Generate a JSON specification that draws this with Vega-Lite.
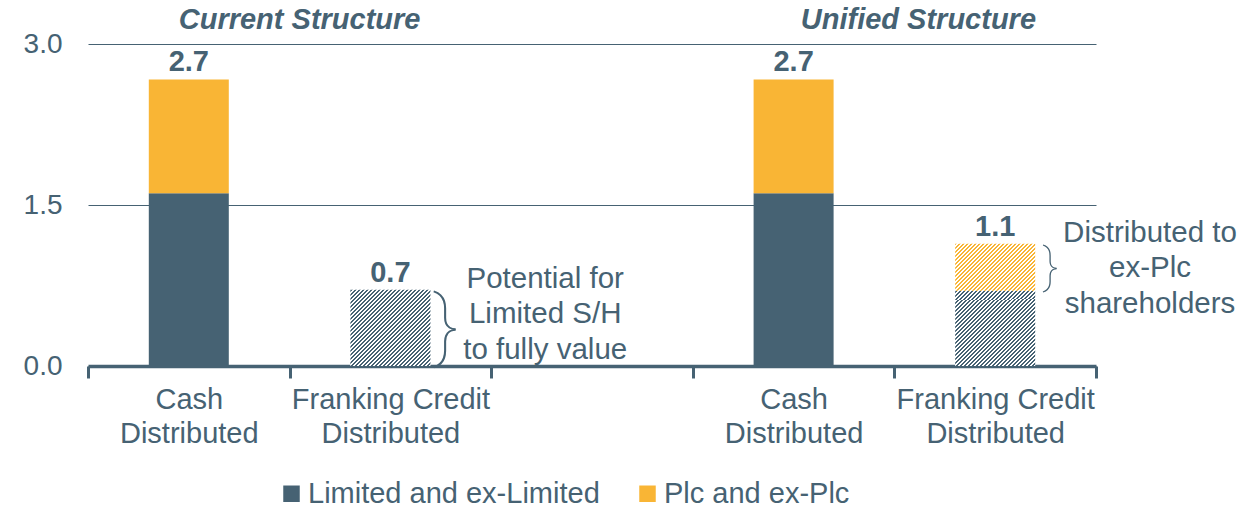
{
  "$schema": "https://vega.github.io/schema/vega-lite/v6.json",
  "width": 1008,
  "height": 322,
  "autosize": {"type": "none"},
  "padding": {"left": 88, "top": 44, "right": 143, "bottom": 143},
  "background": "white",
  "config": {"view": {"stroke": null}, "font": "Liberation Sans"},
  "datasets": {
    "segments": [
      {"slot": 1, "structure": "Current Structure", "item": "Cash Distributed", "series": "Limited and ex-Limited", "value": 1.61, "hatched": false, "note": ""},
      {"slot": 1, "structure": "Current Structure", "item": "Cash Distributed", "series": "Plc and ex-Plc", "value": 1.06, "hatched": false, "note": ""},
      {"slot": 2, "structure": "Current Structure", "item": "Franking Credit Distributed", "series": "Limited and ex-Limited", "value": 0.71, "hatched": true, "note": "Potential for\nLimited S/H\nto fully value"},
      {"slot": 4, "structure": "Unified Structure", "item": "Cash Distributed", "series": "Limited and ex-Limited", "value": 1.61, "hatched": false, "note": ""},
      {"slot": 4, "structure": "Unified Structure", "item": "Cash Distributed", "series": "Plc and ex-Plc", "value": 1.06, "hatched": false, "note": ""},
      {"slot": 5, "structure": "Unified Structure", "item": "Franking Credit Distributed", "series": "Limited and ex-Limited", "value": 0.7, "hatched": true, "note": ""},
      {"slot": 5, "structure": "Unified Structure", "item": "Franking Credit Distributed", "series": "Plc and ex-Plc", "value": 0.44, "hatched": true, "note": "Distributed to\nex-Plc\nshareholders"}
    ],
    "titles": [
      {"structure": "Current Structure", "slot": 2},
      {"structure": "Unified Structure", "slot": 5}
    ]
  },
  "data": {"name": "segments"},
  "encoding": {
    "x": {
      "field": "slot",
      "type": "ordinal",
      "scale": {"domain": [1, 2, 3, 4, 5], "paddingInner": 0, "paddingOuter": 0},
      "axis": {
        "title": null,
        "labelAngle": 0,
        "labelExpr": "datum.value == 1 || datum.value == 4 ? ['Cash', 'Distributed'] : (datum.value == 2 || datum.value == 5 ? ['Franking Credit', 'Distributed'] : '')",
        "labelFontSize": 29,
        "labelColor": "#466273",
        "labelLineHeight": 34,
        "labelPadding": 7,
        "labelLimit": 400,
        "labelOverlap": false,
        "labelBound": false,
        "domainColor": "#466273",
        "domainWidth": 3.5,
        "tickColor": "#466273",
        "tickWidth": 3,
        "tickSize": 12,
        "tickBand": "extent",
        "grid": false
      }
    }
  },
  "layer": [
    {
      "transform": [{"filter": "!datum.hatched"}],
      "mark": {"type": "bar", "width": 80},
      "encoding": {
        "y": {
          "field": "value",
          "type": "quantitative",
          "stack": "zero",
          "scale": {"domain": [0, 3], "nice": false},
          "axis": {
            "title": null,
            "values": [0, 1.5, 3],
            "format": ".1f",
            "labelFontSize": 28,
            "labelColor": "#466273",
            "labelPadding": 26,
            "domain": false,
            "ticks": false,
            "grid": true,
            "gridColor": "#466273",
            "gridWidth": 1,
            "gridOpacity": 1
          }
        },
        "color": {
          "field": "series",
          "type": "nominal",
          "scale": {"domain": ["Limited and ex-Limited", "Plc and ex-Plc"], "range": ["#466273", "#F9B535"]},
          "legend": {
            "title": null,
            "orient": "none",
            "legendX": 189,
            "legendY": 435,
            "direction": "horizontal",
            "symbolType": "square",
            "symbolSize": 272,
            "symbolStrokeWidth": 0,
            "symbolOpacity": 1,
            "labelFontSize": 29,
            "labelColor": "#466273",
            "labelOffset": 2,
            "labelLimit": 400,
            "columnPadding": 33
          }
        },
        "order": {"field": "series", "type": "nominal"}
      }
    },
    {
      "transform": [{"filter": "datum.hatched"}],
      "mark": {"type": "bar", "width": 80},
      "encoding": {
        "y": {"field": "value", "type": "quantitative", "stack": "zero", "title": null},
        "detail": {"field": "series", "type": "nominal"},
        "order": {"field": "series", "type": "nominal"},
        "fill": {
          "condition": {
            "test": "datum.series == 'Plc and ex-Plc'",
            "value": {"gradient": "linear", "x1": 0, "y1": 0, "x2": 1.483, "y2": 0.875, "stops": [
{"offset":0,"color":"#F9B535"},{"offset":0.0125,"color":"#F9B535"},{"offset":0.0125,"color":"#fff"},{"offset":0.025,"color":"#fff"},
{"offset":0.025,"color":"#F9B535"},{"offset":0.0375,"color":"#F9B535"},{"offset":0.0375,"color":"#fff"},{"offset":0.05,"color":"#fff"},
{"offset":0.05,"color":"#F9B535"},{"offset":0.0625,"color":"#F9B535"},{"offset":0.0625,"color":"#fff"},{"offset":0.075,"color":"#fff"},
{"offset":0.075,"color":"#F9B535"},{"offset":0.0875,"color":"#F9B535"},{"offset":0.0875,"color":"#fff"},{"offset":0.1,"color":"#fff"},
{"offset":0.1,"color":"#F9B535"},{"offset":0.1125,"color":"#F9B535"},{"offset":0.1125,"color":"#fff"},{"offset":0.125,"color":"#fff"},
{"offset":0.125,"color":"#F9B535"},{"offset":0.1375,"color":"#F9B535"},{"offset":0.1375,"color":"#fff"},{"offset":0.15,"color":"#fff"},
{"offset":0.15,"color":"#F9B535"},{"offset":0.1625,"color":"#F9B535"},{"offset":0.1625,"color":"#fff"},{"offset":0.175,"color":"#fff"},
{"offset":0.175,"color":"#F9B535"},{"offset":0.1875,"color":"#F9B535"},{"offset":0.1875,"color":"#fff"},{"offset":0.2,"color":"#fff"},
{"offset":0.2,"color":"#F9B535"},{"offset":0.2125,"color":"#F9B535"},{"offset":0.2125,"color":"#fff"},{"offset":0.225,"color":"#fff"},
{"offset":0.225,"color":"#F9B535"},{"offset":0.2375,"color":"#F9B535"},{"offset":0.2375,"color":"#fff"},{"offset":0.25,"color":"#fff"},
{"offset":0.25,"color":"#F9B535"},{"offset":0.2625,"color":"#F9B535"},{"offset":0.2625,"color":"#fff"},{"offset":0.275,"color":"#fff"},
{"offset":0.275,"color":"#F9B535"},{"offset":0.2875,"color":"#F9B535"},{"offset":0.2875,"color":"#fff"},{"offset":0.3,"color":"#fff"},
{"offset":0.3,"color":"#F9B535"},{"offset":0.3125,"color":"#F9B535"},{"offset":0.3125,"color":"#fff"},{"offset":0.325,"color":"#fff"},
{"offset":0.325,"color":"#F9B535"},{"offset":0.3375,"color":"#F9B535"},{"offset":0.3375,"color":"#fff"},{"offset":0.35,"color":"#fff"},
{"offset":0.35,"color":"#F9B535"},{"offset":0.3625,"color":"#F9B535"},{"offset":0.3625,"color":"#fff"},{"offset":0.375,"color":"#fff"},
{"offset":0.375,"color":"#F9B535"},{"offset":0.3875,"color":"#F9B535"},{"offset":0.3875,"color":"#fff"},{"offset":0.4,"color":"#fff"},
{"offset":0.4,"color":"#F9B535"},{"offset":0.4125,"color":"#F9B535"},{"offset":0.4125,"color":"#fff"},{"offset":0.425,"color":"#fff"},
{"offset":0.425,"color":"#F9B535"},{"offset":0.4375,"color":"#F9B535"},{"offset":0.4375,"color":"#fff"},{"offset":0.45,"color":"#fff"},
{"offset":0.45,"color":"#F9B535"},{"offset":0.4625,"color":"#F9B535"},{"offset":0.4625,"color":"#fff"},{"offset":0.475,"color":"#fff"},
{"offset":0.475,"color":"#F9B535"},{"offset":0.4875,"color":"#F9B535"},{"offset":0.4875,"color":"#fff"},{"offset":0.5,"color":"#fff"},
{"offset":0.5,"color":"#F9B535"},{"offset":0.5125,"color":"#F9B535"},{"offset":0.5125,"color":"#fff"},{"offset":0.525,"color":"#fff"},
{"offset":0.525,"color":"#F9B535"},{"offset":0.5375,"color":"#F9B535"},{"offset":0.5375,"color":"#fff"},{"offset":0.55,"color":"#fff"},
{"offset":0.55,"color":"#F9B535"},{"offset":0.5625,"color":"#F9B535"},{"offset":0.5625,"color":"#fff"},{"offset":0.575,"color":"#fff"},
{"offset":0.575,"color":"#F9B535"},{"offset":0.5875,"color":"#F9B535"},{"offset":0.5875,"color":"#fff"},{"offset":0.6,"color":"#fff"},
{"offset":0.6,"color":"#F9B535"},{"offset":0.6125,"color":"#F9B535"},{"offset":0.6125,"color":"#fff"},{"offset":0.625,"color":"#fff"},
{"offset":0.625,"color":"#F9B535"},{"offset":0.6375,"color":"#F9B535"},{"offset":0.6375,"color":"#fff"},{"offset":0.65,"color":"#fff"},
{"offset":0.65,"color":"#F9B535"},{"offset":0.6625,"color":"#F9B535"},{"offset":0.6625,"color":"#fff"},{"offset":0.675,"color":"#fff"},
{"offset":0.675,"color":"#F9B535"},{"offset":0.6875,"color":"#F9B535"},{"offset":0.6875,"color":"#fff"},{"offset":0.7,"color":"#fff"},
{"offset":0.7,"color":"#F9B535"},{"offset":0.7125,"color":"#F9B535"},{"offset":0.7125,"color":"#fff"},{"offset":0.725,"color":"#fff"},
{"offset":0.725,"color":"#F9B535"},{"offset":0.7375,"color":"#F9B535"},{"offset":0.7375,"color":"#fff"},{"offset":0.75,"color":"#fff"},
{"offset":0.75,"color":"#F9B535"},{"offset":0.7625,"color":"#F9B535"},{"offset":0.7625,"color":"#fff"},{"offset":0.775,"color":"#fff"},
{"offset":0.775,"color":"#F9B535"},{"offset":0.7875,"color":"#F9B535"},{"offset":0.7875,"color":"#fff"},{"offset":0.8,"color":"#fff"},
{"offset":0.8,"color":"#F9B535"},{"offset":0.8125,"color":"#F9B535"},{"offset":0.8125,"color":"#fff"},{"offset":0.825,"color":"#fff"},
{"offset":0.825,"color":"#F9B535"},{"offset":0.8375,"color":"#F9B535"},{"offset":0.8375,"color":"#fff"},{"offset":0.85,"color":"#fff"},
{"offset":0.85,"color":"#F9B535"},{"offset":0.8625,"color":"#F9B535"},{"offset":0.8625,"color":"#fff"},{"offset":0.875,"color":"#fff"},
{"offset":0.875,"color":"#F9B535"},{"offset":0.8875,"color":"#F9B535"},{"offset":0.8875,"color":"#fff"},{"offset":0.9,"color":"#fff"},
{"offset":0.9,"color":"#F9B535"},{"offset":0.9125,"color":"#F9B535"},{"offset":0.9125,"color":"#fff"},{"offset":0.925,"color":"#fff"},
{"offset":0.925,"color":"#F9B535"},{"offset":0.9375,"color":"#F9B535"},{"offset":0.9375,"color":"#fff"},{"offset":0.95,"color":"#fff"},
{"offset":0.95,"color":"#F9B535"},{"offset":0.9625,"color":"#F9B535"},{"offset":0.9625,"color":"#fff"},{"offset":0.975,"color":"#fff"},
{"offset":0.975,"color":"#F9B535"},{"offset":0.9875,"color":"#F9B535"},{"offset":0.9875,"color":"#fff"},{"offset":1,"color":"#fff"}
            ]}
          },
          "value": {"gradient": "linear", "x1": 0, "y1": 0, "x2": 1.0554, "y2": 0.9984, "stops": [
{"offset":0,"color":"#466273"},{"offset":0.0125,"color":"#466273"},{"offset":0.0125,"color":"#fff"},{"offset":0.025,"color":"#fff"},
{"offset":0.025,"color":"#466273"},{"offset":0.0375,"color":"#466273"},{"offset":0.0375,"color":"#fff"},{"offset":0.05,"color":"#fff"},
{"offset":0.05,"color":"#466273"},{"offset":0.0625,"color":"#466273"},{"offset":0.0625,"color":"#fff"},{"offset":0.075,"color":"#fff"},
{"offset":0.075,"color":"#466273"},{"offset":0.0875,"color":"#466273"},{"offset":0.0875,"color":"#fff"},{"offset":0.1,"color":"#fff"},
{"offset":0.1,"color":"#466273"},{"offset":0.1125,"color":"#466273"},{"offset":0.1125,"color":"#fff"},{"offset":0.125,"color":"#fff"},
{"offset":0.125,"color":"#466273"},{"offset":0.1375,"color":"#466273"},{"offset":0.1375,"color":"#fff"},{"offset":0.15,"color":"#fff"},
{"offset":0.15,"color":"#466273"},{"offset":0.1625,"color":"#466273"},{"offset":0.1625,"color":"#fff"},{"offset":0.175,"color":"#fff"},
{"offset":0.175,"color":"#466273"},{"offset":0.1875,"color":"#466273"},{"offset":0.1875,"color":"#fff"},{"offset":0.2,"color":"#fff"},
{"offset":0.2,"color":"#466273"},{"offset":0.2125,"color":"#466273"},{"offset":0.2125,"color":"#fff"},{"offset":0.225,"color":"#fff"},
{"offset":0.225,"color":"#466273"},{"offset":0.2375,"color":"#466273"},{"offset":0.2375,"color":"#fff"},{"offset":0.25,"color":"#fff"},
{"offset":0.25,"color":"#466273"},{"offset":0.2625,"color":"#466273"},{"offset":0.2625,"color":"#fff"},{"offset":0.275,"color":"#fff"},
{"offset":0.275,"color":"#466273"},{"offset":0.2875,"color":"#466273"},{"offset":0.2875,"color":"#fff"},{"offset":0.3,"color":"#fff"},
{"offset":0.3,"color":"#466273"},{"offset":0.3125,"color":"#466273"},{"offset":0.3125,"color":"#fff"},{"offset":0.325,"color":"#fff"},
{"offset":0.325,"color":"#466273"},{"offset":0.3375,"color":"#466273"},{"offset":0.3375,"color":"#fff"},{"offset":0.35,"color":"#fff"},
{"offset":0.35,"color":"#466273"},{"offset":0.3625,"color":"#466273"},{"offset":0.3625,"color":"#fff"},{"offset":0.375,"color":"#fff"},
{"offset":0.375,"color":"#466273"},{"offset":0.3875,"color":"#466273"},{"offset":0.3875,"color":"#fff"},{"offset":0.4,"color":"#fff"},
{"offset":0.4,"color":"#466273"},{"offset":0.4125,"color":"#466273"},{"offset":0.4125,"color":"#fff"},{"offset":0.425,"color":"#fff"},
{"offset":0.425,"color":"#466273"},{"offset":0.4375,"color":"#466273"},{"offset":0.4375,"color":"#fff"},{"offset":0.45,"color":"#fff"},
{"offset":0.45,"color":"#466273"},{"offset":0.4625,"color":"#466273"},{"offset":0.4625,"color":"#fff"},{"offset":0.475,"color":"#fff"},
{"offset":0.475,"color":"#466273"},{"offset":0.4875,"color":"#466273"},{"offset":0.4875,"color":"#fff"},{"offset":0.5,"color":"#fff"},
{"offset":0.5,"color":"#466273"},{"offset":0.5125,"color":"#466273"},{"offset":0.5125,"color":"#fff"},{"offset":0.525,"color":"#fff"},
{"offset":0.525,"color":"#466273"},{"offset":0.5375,"color":"#466273"},{"offset":0.5375,"color":"#fff"},{"offset":0.55,"color":"#fff"},
{"offset":0.55,"color":"#466273"},{"offset":0.5625,"color":"#466273"},{"offset":0.5625,"color":"#fff"},{"offset":0.575,"color":"#fff"},
{"offset":0.575,"color":"#466273"},{"offset":0.5875,"color":"#466273"},{"offset":0.5875,"color":"#fff"},{"offset":0.6,"color":"#fff"},
{"offset":0.6,"color":"#466273"},{"offset":0.6125,"color":"#466273"},{"offset":0.6125,"color":"#fff"},{"offset":0.625,"color":"#fff"},
{"offset":0.625,"color":"#466273"},{"offset":0.6375,"color":"#466273"},{"offset":0.6375,"color":"#fff"},{"offset":0.65,"color":"#fff"},
{"offset":0.65,"color":"#466273"},{"offset":0.6625,"color":"#466273"},{"offset":0.6625,"color":"#fff"},{"offset":0.675,"color":"#fff"},
{"offset":0.675,"color":"#466273"},{"offset":0.6875,"color":"#466273"},{"offset":0.6875,"color":"#fff"},{"offset":0.7,"color":"#fff"},
{"offset":0.7,"color":"#466273"},{"offset":0.7125,"color":"#466273"},{"offset":0.7125,"color":"#fff"},{"offset":0.725,"color":"#fff"},
{"offset":0.725,"color":"#466273"},{"offset":0.7375,"color":"#466273"},{"offset":0.7375,"color":"#fff"},{"offset":0.75,"color":"#fff"},
{"offset":0.75,"color":"#466273"},{"offset":0.7625,"color":"#466273"},{"offset":0.7625,"color":"#fff"},{"offset":0.775,"color":"#fff"},
{"offset":0.775,"color":"#466273"},{"offset":0.7875,"color":"#466273"},{"offset":0.7875,"color":"#fff"},{"offset":0.8,"color":"#fff"},
{"offset":0.8,"color":"#466273"},{"offset":0.8125,"color":"#466273"},{"offset":0.8125,"color":"#fff"},{"offset":0.825,"color":"#fff"},
{"offset":0.825,"color":"#466273"},{"offset":0.8375,"color":"#466273"},{"offset":0.8375,"color":"#fff"},{"offset":0.85,"color":"#fff"},
{"offset":0.85,"color":"#466273"},{"offset":0.8625,"color":"#466273"},{"offset":0.8625,"color":"#fff"},{"offset":0.875,"color":"#fff"},
{"offset":0.875,"color":"#466273"},{"offset":0.8875,"color":"#466273"},{"offset":0.8875,"color":"#fff"},{"offset":0.9,"color":"#fff"},
{"offset":0.9,"color":"#466273"},{"offset":0.9125,"color":"#466273"},{"offset":0.9125,"color":"#fff"},{"offset":0.925,"color":"#fff"},
{"offset":0.925,"color":"#466273"},{"offset":0.9375,"color":"#466273"},{"offset":0.9375,"color":"#fff"},{"offset":0.95,"color":"#fff"},
{"offset":0.95,"color":"#466273"},{"offset":0.9625,"color":"#466273"},{"offset":0.9625,"color":"#fff"},{"offset":0.975,"color":"#fff"},
{"offset":0.975,"color":"#466273"},{"offset":0.9875,"color":"#466273"},{"offset":0.9875,"color":"#fff"},{"offset":1,"color":"#fff"}
          ]}
        }
      }
    },
    {
      "mark": {"type": "text", "fontSize": 29, "fontWeight": "bold", "color": "#466273", "baseline": "alphabetic", "dy": -8},
      "encoding": {
        "y": {"aggregate": "sum", "field": "value", "type": "quantitative", "title": null},
        "text": {"aggregate": "sum", "field": "value", "type": "quantitative", "format": ".1f"}
      }
    },
    {
      "mark": {"type": "text", "font": "Roboto", "fontWeight": 100, "color": "#466273", "baseline": "middle", "align": "center"},
      "encoding": {
        "x": {"field": "slot", "type": "ordinal", "bandPosition": 0.775, "title": null},
        "y": {"field": "value", "type": "quantitative", "stack": "zero", "bandPosition": 0.5, "title": null},
        "detail": {"field": "series", "type": "nominal"},
        "order": {"field": "series", "type": "nominal"},
        "size": {"field": "value", "type": "quantitative", "scale": {"domain": [0, 0.7], "range": [0, 77]}, "legend": null},
        "text": {"condition": {"test": "datum.note", "value": "}"}, "value": ""}
      }
    },
    {
      "transform": [
        {"joinaggregate": [{"op": "sum", "field": "value", "as": "total"}], "groupby": ["slot"]},
        {"filter": "datum.note != ''"}
      ],
      "mark": {"type": "text", "fontSize": 29.5, "lineHeight": 35.5, "lineBreak": "\n", "color": "#466273", "baseline": "middle", "align": "center", "dx": 54, "dy": -11},
      "encoding": {
        "x": {"field": "slot", "type": "ordinal", "bandPosition": 1, "title": null},
        "y": {"field": "total", "type": "quantitative", "title": null},
        "text": {"field": "note", "type": "nominal"}
      }
    },
    {
      "data": {"name": "titles"},
      "transform": [{"filter": "datum.structure == 'Current Structure'"}],
      "mark": {"type": "text", "fontSize": 29, "fontWeight": "bold", "fontStyle": "italic", "color": "#466273", "baseline": "middle", "align": "center", "dx": 10, "dy": -24},
      "encoding": {
        "x": {"field": "slot", "type": "ordinal", "bandPosition": 0, "title": null},
        "y": {"datum": 3},
        "text": {"field": "structure", "type": "nominal"}
      }
    },
    {
      "data": {"name": "titles"},
      "transform": [{"filter": "datum.structure == 'Unified Structure'"}],
      "mark": {"type": "text", "fontSize": 29, "fontWeight": "bold", "fontStyle": "italic", "color": "#466273", "baseline": "middle", "align": "center", "dx": 24, "dy": -24},
      "encoding": {
        "x": {"field": "slot", "type": "ordinal", "bandPosition": 0, "title": null},
        "y": {"datum": 3},
        "text": {"field": "structure", "type": "nominal"}
      }
    }
  ]
}
